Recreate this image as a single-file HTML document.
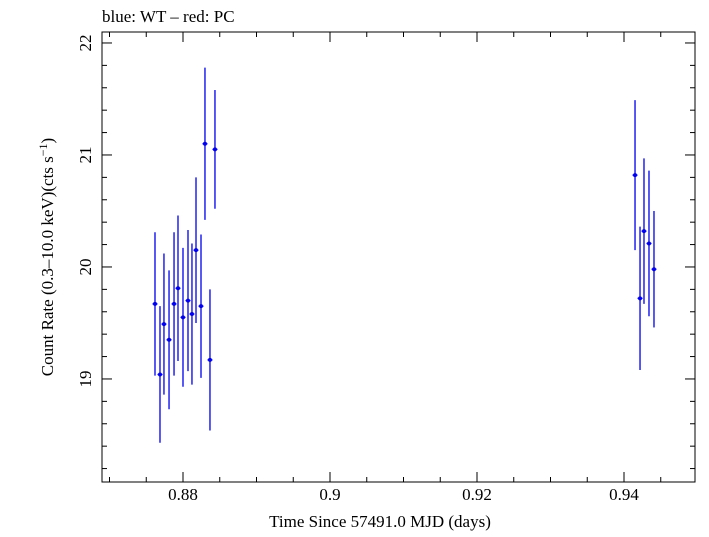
<!DOCTYPE html>
<html><head><meta charset="utf-8"><style>
body{margin:0;background:#fff;}
svg text{font-family:"Liberation Serif",serif;fill:#000;}
</style></head><body>
<svg width="709" height="532">
<text x="102" y="22" font-size="17">blue: WT – red: PC</text>
<rect x="102" y="32" width="593" height="450" fill="none" stroke="#000" stroke-width="1"/>
<g id="axes"></g>
<g id="marks"></g>
<text x="380" y="527" font-size="17" text-anchor="middle">Time Since 57491.0 MJD (days)</text>
<text transform="translate(53,257) rotate(-90)" font-size="17" text-anchor="middle">Count Rate (0.3–10.0 keV)(cts s<tspan dy="-6" font-size="12">−1</tspan><tspan dy="6">)</tspan></text>
</svg>
<script>
const times=[0.87619,0.87687,0.87741,0.87810,0.87878,0.87932,0.88,0.88068,0.88122,0.88177,0.88245,0.88299,0.88367,0.88435,0.94150,0.94218,0.94272,0.94340,0.94408];
const rates=[19.67,19.04,19.49,19.35,19.67,19.81,19.55,19.70,19.58,20.15,19.65,21.10,19.17,21.05,20.82,19.72,20.32,20.21,19.98];
const errors=[0.64,0.61,0.63,0.62,0.64,0.65,0.62,0.63,0.63,0.65,0.64,0.68,0.63,0.53,0.67,0.64,0.65,0.65,0.52];
const xTicks=[0.88,0.9,0.92,0.94];
const xTickLabels=["0.88","0.9","0.92","0.94"];
const yTicks=[19,20,21,22];
const yTickLabels=["19","20","21","22"];
const X0=0.86898,X1=0.94966,Y0=18.08,Y1=22.098;
const L=102,R=695,T=32,B=482;
const sx=v=>L+(v-X0)/(X1-X0)*(R-L);
const sy=v=>B-(v-Y0)/(Y1-Y0)*(B-T);
const NS="http://www.w3.org/2000/svg";
const axes=document.getElementById('axes'),marks=document.getElementById('marks');
function ln(g,x1,y1,x2,y2,c,w){const e=document.createElementNS(NS,'line');e.setAttribute('x1',x1);e.setAttribute('y1',y1);e.setAttribute('x2',x2);e.setAttribute('y2',y2);e.setAttribute('stroke',c);e.setAttribute('stroke-width',w);g.appendChild(e);return e;}
function tx(x,y,s,anchor){const e=document.createElementNS(NS,'text');e.setAttribute('x',x);e.setAttribute('y',y);e.setAttribute('font-size','17');e.setAttribute('text-anchor',anchor);e.textContent=s;axes.appendChild(e);return e;}
for(let v=0.87;v<=0.95;v+=0.005){const x=sx(v);if(x<L||x>R)continue;const major=xTicks.some(t=>Math.abs(t-v)<1e-6);const len=major?10:5;
const a=ln(axes,x,B,x,B-len,'#000',1);
const b=ln(axes,x,T,x,T+len,'#000',1);}
xTicks.forEach((v,i)=>{const t=tx(sx(v),500,xTickLabels[i],'middle');});
for(let v=18.2;v<=22.05;v+=0.2){const y=sy(v);const major=yTicks.some(t=>Math.abs(t-v)<1e-6);const len=major?10:5;
const a=ln(axes,L,y,L+len,y,'#000',1);
const b=ln(axes,R,y,R-len,y,'#000',1);}
yTicks.forEach((v,i)=>{const t=tx(0,0,yTickLabels[i],'middle');t.setAttribute('transform',`translate(${L-17},${sy(v)}) rotate(-90)`);t.setAttribute('y','6');});
times.forEach((t,i)=>{const x=sx(t),y=sy(rates[i]);
const e=ln(marks,x,sy(rates[i]+errors[i]),x,sy(rates[i]-errors[i]),'#0000ee',1.3);


const h=ln(marks,x-2.5,y,x+2.5,y,'#0000ee',1.3);


const c=document.createElementNS(NS,'circle');c.setAttribute('cx',x);c.setAttribute('cy',y);c.setAttribute('r','2');c.setAttribute('fill','#0000ee');


marks.appendChild(c);});
</script>
</body></html>
